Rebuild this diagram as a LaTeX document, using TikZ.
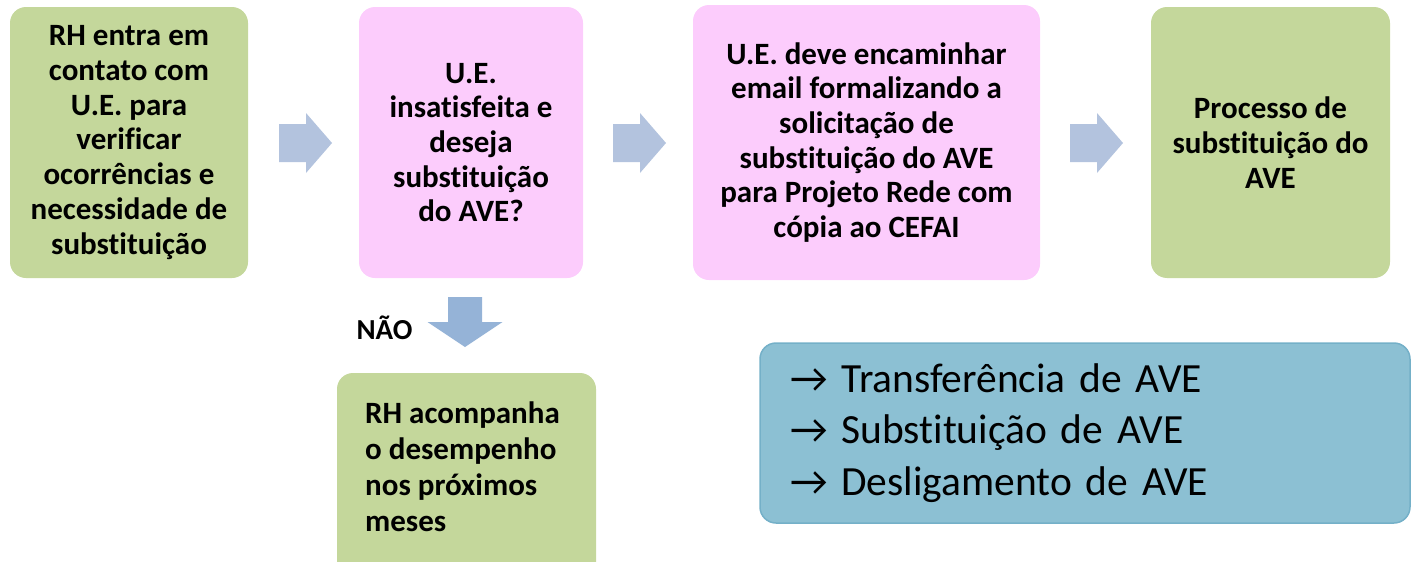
\documentclass[tikz,border=0pt]{standalone}
\usepackage{fontspec}
\setmainfont{Carlito}[RawFeature=-liga]
\definecolor{gfill}{HTML}{C4D79B}
\definecolor{pfill}{HTML}{FCCCFC}
\definecolor{arrcol}{HTML}{B3C3DE}
\definecolor{darrcol}{HTML}{95B3D7}
\definecolor{tfill}{HTML}{8CC0D3}
\definecolor{tdraw}{HTML}{74B0C8}
\begin{document}
\begin{tikzpicture}[x=1pt,y=-1pt,
  box/.style={rounded corners=16pt, inner sep=0pt, align=center,
    font=\bfseries\fontsize{31}{34.7}\selectfont},
  gbox/.style={box, fill=gfill},
  pbox/.style={box, fill=pfill},
  rarr/.pic={\fill[arrcol] (0,-19) -- (27,-19) -- (27,-30) -- (53,0) -- (27,30) -- (27,19) -- (0,19) -- cycle;}
]
\useasboundingbox (0,0) rectangle (1414,562);
\clip (0,0) rectangle (1414,562);

\node[gbox, minimum width=238pt, minimum height=271pt] (b1) at (129,142.5)
  {RH entra em\\contato com\\U.E. para\\verificar\\ocorrências e\\necessidade de\\substituição};
\node[pbox, minimum width=224pt, minimum height=271pt] (b2) at (471,142.5)
  {U.E.\\insatisfeita e\\deseja\\substituição\\do AVE?};
\node[pbox, minimum width=347pt, minimum height=275pt] (b3) at (866.5,142.5)
  {U.E. deve encaminhar\\email formalizando a\\solicitação de\\substituição do AVE\\para Projeto Rede com\\cópia ao CEFAI};
\node[gbox, minimum width=239pt, minimum height=271pt] (b4) at (1270.5,142.5)
  {Processo de\\substituição do\\AVE};

\pic at (279,143) {rarr};
\pic at (613,143) {rarr};
\pic at (1070,143) {rarr};

\fill[darrcol] (448,297) -- (482,297) -- (482,322) -- (502.5,322) -- (465,347) -- (427.5,322) -- (448,322) -- cycle;
\node[font=\bfseries\fontsize{29}{30}\selectfont, inner sep=0pt] (no) at (384.5,328) {NÃO};

\fill[gfill, rounded corners=16pt] (337,373) rectangle (596,610);
\node[anchor=west, align=left, inner sep=0pt, font=\bfseries\fontsize{31}{36}\selectfont] (b5) at (365,467)
  {RH acompanha\\o desempenho\\nos próximos\\meses};

\node[rounded corners=16pt, fill=tfill, draw=tdraw, line width=1.5pt,
  minimum width=650pt, minimum height=180pt, text width=590pt, inner xsep=30pt, inner ysep=0pt,
  align=left, font=\fontsize{41.5}{51.5}\selectfont] (opts) at (1085,433)
  {→ Transferência de AVE\\→ Substituição de AVE\\→ Desligamento de AVE};
\end{tikzpicture}
\end{document}
